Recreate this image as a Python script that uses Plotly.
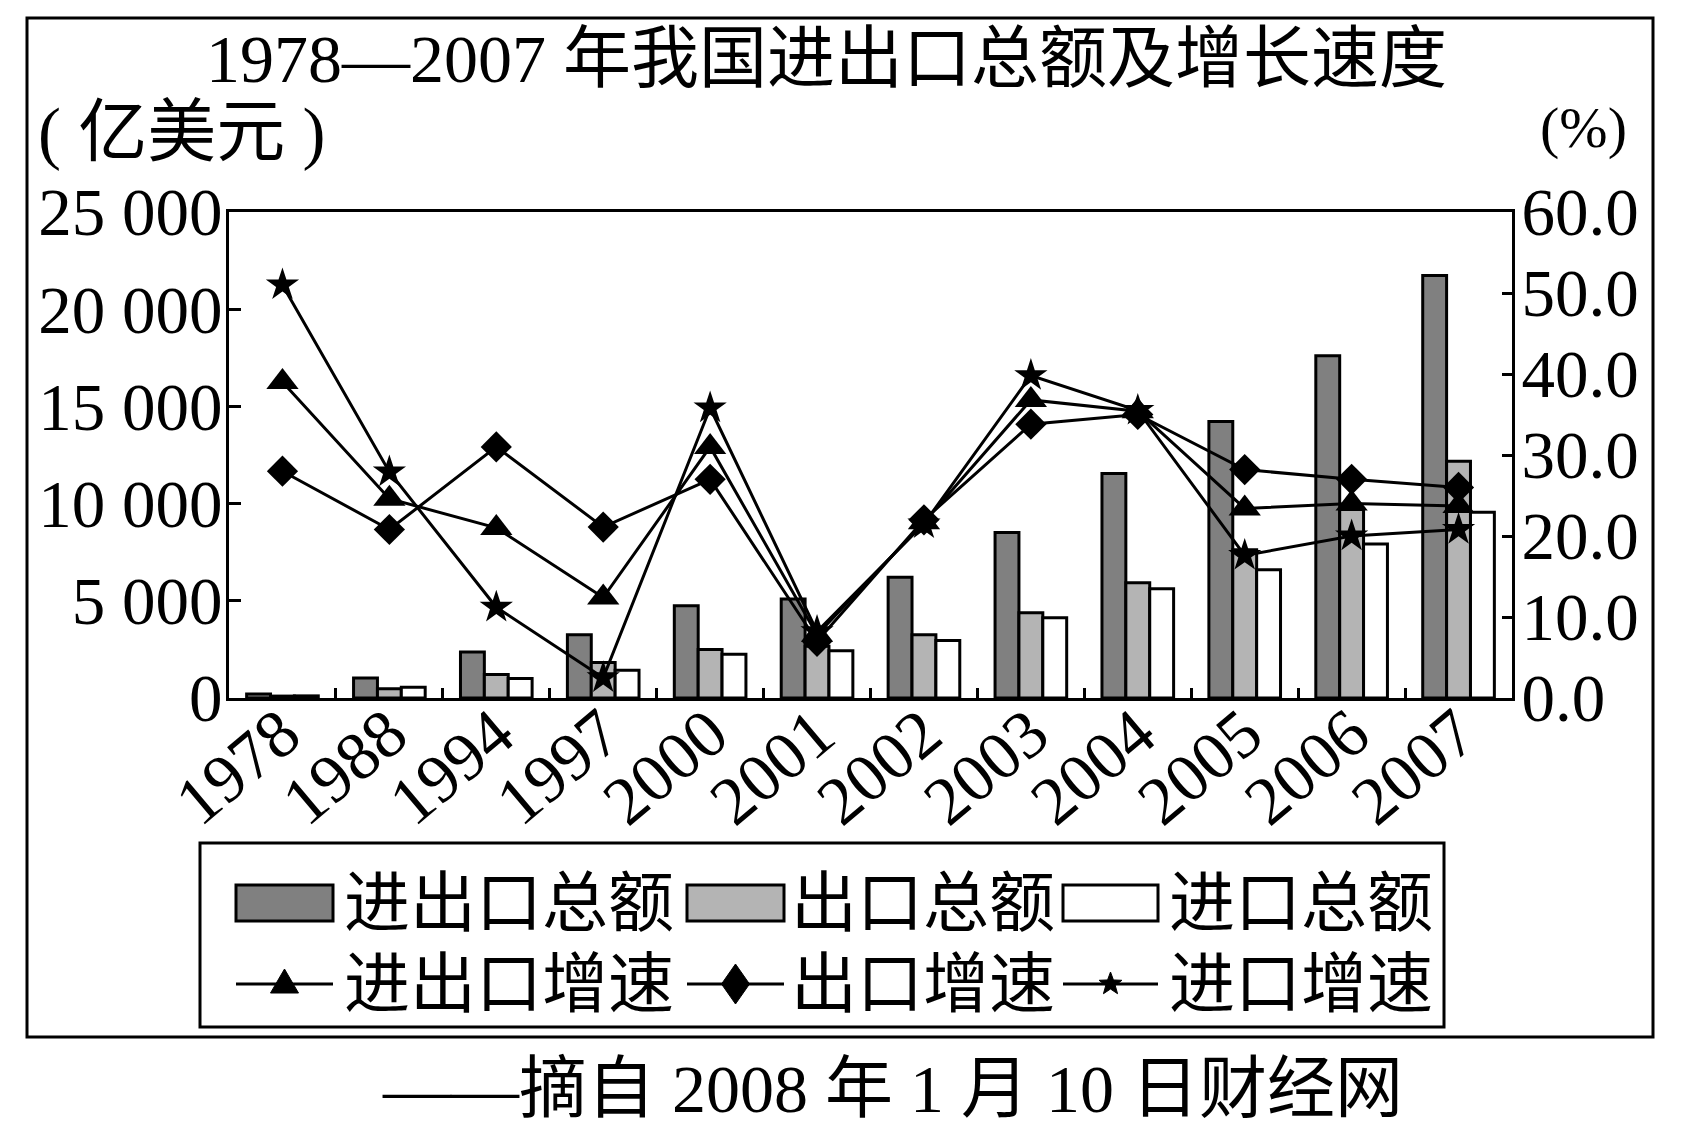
import math
import plotly.graph_objects as go

# ---------------- data ----------------
years = ["1978", "1988", "1994", "1997", "2000", "2001", "2002", "2003", "2004", "2005", "2006", "2007"]
total_trade = [206, 1028, 2366, 3252, 4743, 5097, 6208, 8510, 11548, 14221, 17607, 21738]
exports = [98, 475, 1210, 1828, 2492, 2661, 3256, 4382, 5934, 7620, 9691, 12180]
imports = [109, 553, 1000, 1424, 2251, 2436, 2952, 4128, 5614, 6601, 7916, 9558]
trade_growth = [39.0, 24.6, 21.0, 12.4, 31.0, 7.8, 21.7, 36.8, 35.4, 23.4, 24.0, 23.7]
export_growth = [28.0, 20.8, 31.0, 21.1, 27.0, 7.0, 22.0, 33.8, 35.0, 28.2, 27.0, 26.0]
import_growth = [51.0, 27.9, 11.2, 2.5, 35.8, 8.2, 21.5, 39.8, 35.5, 17.6, 20.0, 20.8]

left_tickvals = [0, 5000, 10000, 15000, 20000, 25000]
left_ticktext = ["0", "5 000", "10 000", "15 000", "20 000", "25 000"]
right_tickvals = [0, 10, 20, 30, 40, 50, 60]
right_ticktext = ["0.0", "10.0", "20.0", "30.0", "40.0", "50.0", "60.0"]

bar_names = ["进出口总额", "出口总额", "进口总额"]
line_names = ["进出口增速", "出口增速", "进口增速"]
title_text = "1978—2007 年我国进出口总额及增长速度"
left_unit = "( 亿美元 )"
right_unit = "(%)"
source_text = "——摘自 2008 年 1 月 10 日财经网"

# ---------------- style ----------------
W, H = 1688, 1132
PL, PR, PT, PB = 229, 1512, 212, 698   # plot area in pixels
FONT = "Liberation Serif, Noto Sans CJK SC, serif"
bar_colors = ["#808080", "#b4b4b4", "#ffffff"]
line_symbols = ["triangle-up", "diamond", "star"]
line_sizes = [28, 24, 25]


def px_x(px):
    return (px - PL) / (PR - PL)


def px_y(py):
    return (PB - py) / (PB - PT)


fig = go.Figure()

for name, vals, col in zip(bar_names, [total_trade, exports, imports], bar_colors):
    fig.add_trace(go.Bar(
        x=years, y=vals, name=name, yaxis="y",
        marker=dict(color=col, line=dict(color="black", width=3)),
        showlegend=False,
    ))

for name, vals, sym, sz in zip(line_names, [trade_growth, export_growth, import_growth],
                               line_symbols, line_sizes):
    fig.add_trace(go.Scatter(
        x=years, y=vals, name=name, yaxis="y2", mode="lines+markers",
        line=dict(color="black", width=3),
        marker=dict(symbol=sym, size=sz, color="black", line=dict(width=0)),
        showlegend=False,
    ))

axis_common = dict(
    showline=True, linecolor="black", linewidth=3,
    ticks="inside", tickcolor="black", tickwidth=3,
    showgrid=False, zeroline=False,
)

fig.update_layout(
    width=W, height=H,
    margin=dict(l=PL, r=W - PR, t=PT, b=H - PB, pad=0),
    paper_bgcolor="white", plot_bgcolor="white",
    barmode="group", bargap=0.33, bargroupgap=0.0,
    font=dict(family=FONT, color="black"),
    xaxis=dict(
        type="category", range=[-0.5, len(years) - 0.5],
        mirror=True, tickson="boundaries", ticklen=10, tickangle=-40,
        ticklabelstandoff=-34,
        tickfont=dict(family=FONT, size=68, color="black"),
        **axis_common,
    ),
    yaxis=dict(
        range=[0, 25000], tickvals=left_tickvals, ticktext=left_ticktext,
        ticklen=12, ticklabelstandoff=-10,
        tickfont=dict(family=FONT, size=67, color="black"),
        **axis_common,
    ),
    yaxis2=dict(
        overlaying="y", side="right", range=[0, 60],
        tickvals=right_tickvals, ticktext=right_ticktext,
        ticklen=10, ticklabelstandoff=-7,
        tickfont=dict(family=FONT, size=67, color="black"),
        **axis_common,
    ),
)

shapes = []
annotations = []

# outer frame
shapes.append(dict(type="rect", xref="paper", yref="paper",
                   x0=px_x(27), x1=px_x(1653), y0=px_y(1037), y1=px_y(18),
                   line=dict(color="black", width=3), fillcolor="rgba(0,0,0,0)", layer="below"))

# title, units, source
annotations.append(dict(text=title_text, xref="paper", yref="paper", x=px_x(826), y=px_y(59),
                        xanchor="center", yanchor="middle", showarrow=False,
                        font=dict(family=FONT, size=68, color="black")))
annotations.append(dict(text=left_unit, xref="paper", yref="paper", x=px_x(36), y=px_y(133),
                        xanchor="left", yanchor="middle", showarrow=False,
                        font=dict(family=FONT, size=69, color="black")))
annotations.append(dict(text=right_unit, xref="paper", yref="paper", x=px_x(1583), y=px_y(128),
                        xanchor="center", yanchor="middle", showarrow=False,
                        font=dict(family=FONT, size=58, color="black")))
annotations.append(dict(text=source_text, xref="paper", yref="paper", x=px_x(380), y=px_y(1089),
                        xanchor="left", yanchor="middle", showarrow=False,
                        font=dict(family=FONT, size=68, color="black")))

# custom legend
shapes.append(dict(type="rect", xref="paper", yref="paper",
                   x0=px_x(200), x1=px_x(1444), y0=px_y(1027), y1=px_y(843),
                   line=dict(color="black", width=3), fillcolor="white"))
sym_x = [(236, 333), (687, 784), (1063, 1158)]
text_x = [342, 789, 1167]
row1_y, row2_y = 903, 984
for (sx0, sx1), tx, name, col in zip(sym_x, text_x, bar_names, bar_colors):
    shapes.append(dict(type="rect", xref="paper", yref="paper",
                       x0=px_x(sx0), x1=px_x(sx1), y0=px_y(row1_y + 18), y1=px_y(row1_y - 18),
                       line=dict(color="black", width=3), fillcolor=col))
    annotations.append(dict(text=name, xref="paper", yref="paper", x=px_x(tx), y=px_y(row1_y),
                            xanchor="left", yanchor="middle", showarrow=False,
                            font=dict(family=FONT, size=66, color="black")))


def star_path(R, r):
    pts = []
    for i in range(10):
        ang = math.pi / 2 + i * math.pi / 5
        rad = R if i % 2 == 0 else r
        pts.append((rad * math.cos(ang), rad * math.sin(ang)))
    return "M" + " L".join(f"{x:.2f},{y:.2f}" for x, y in pts) + " Z"


marker_paths = [
    "M-14,-9 L14,-9 L0,15 Z",
    "M0,-20 L14,0 L0,20 L-14,0 Z",
    star_path(12, 5),
]
for (sx0, sx1), tx, name, mp in zip(sym_x, text_x, line_names, marker_paths):
    shapes.append(dict(type="line", xref="paper", yref="paper",
                       x0=px_x(sx0), x1=px_x(sx1), y0=px_y(row2_y), y1=px_y(row2_y),
                       line=dict(color="black", width=3)))
    shapes.append(dict(type="path", xref="paper", yref="paper",
                       xsizemode="pixel", ysizemode="pixel",
                       xanchor=px_x((sx0 + sx1) / 2), yanchor=px_y(row2_y),
                       path=mp, fillcolor="black", line=dict(color="black", width=1)))
    annotations.append(dict(text=name, xref="paper", yref="paper", x=px_x(tx), y=px_y(row2_y),
                            xanchor="left", yanchor="middle", showarrow=False,
                            font=dict(family=FONT, size=66, color="black")))

fig.update_layout(shapes=shapes, annotations=annotations)
fig.write_html("out.html")
